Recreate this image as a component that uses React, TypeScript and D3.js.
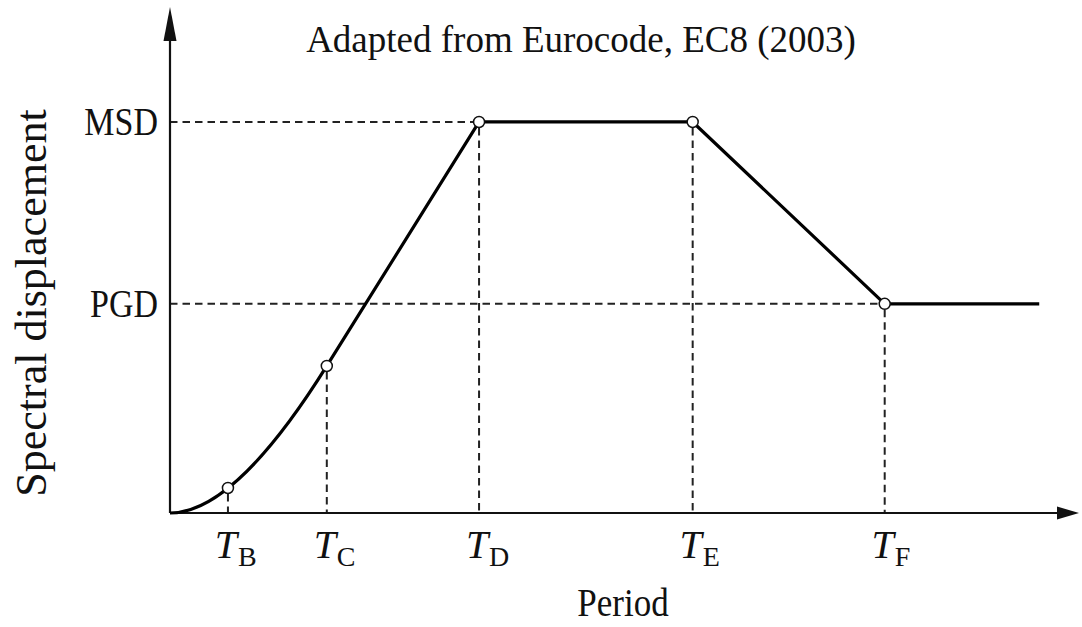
import React from 'react';
import * as d3 from 'd3';

// corner periods of the spectrum (schematic units) and the spectral displacement at each
const cornerNames = ['B', 'C', 'D', 'E', 'F'];
const cornerPeriods = [0.51, 1.38, 2.72, 4.6, 6.29];
const cornerDisp = [0.064, 0.376, 1.0, 1.0, 0.535];
const endPeriod = 7.65;

// reference levels on the y axis
const levelNames = ['MSD', 'PGD'];
const levelValues = [1.0, 0.535];

const width = 1082;
const height = 627;
const serif = '"Liberation Serif", "Times New Roman", serif';

const App: React.FC = () => {
  const x = d3.scaleLinear().domain([0, 8]).range([170, 1079]);
  const y = d3.scaleLinear().domain([0, 1.294]).range([513, 7]);

  const [x0, x1] = x.range();
  const [y0, y1] = y.range();

  // ascending branch: quadratic from origin, tangent to the straight TC-TD segment
  const iC = 1, iD = 2;
  const slope = (cornerDisp[iD] - cornerDisp[iC]) / (cornerPeriods[iD] - cornerPeriods[iC]);
  const ctrlT = cornerPeriods[iC] - cornerDisp[iC] / slope;

  const p = d3.path();
  p.moveTo(x(0), y(0));
  p.quadraticCurveTo(x(ctrlT), y(0), x(cornerPeriods[iC]), y(cornerDisp[iC]));
  for (let i = iD; i < cornerPeriods.length; i++) p.lineTo(x(cornerPeriods[i]), y(cornerDisp[i]));
  p.lineTo(x(endPeriod), y(cornerDisp[cornerDisp.length - 1]));

  // horizontal guides end at the first corner reaching that level
  const levelEnd = levelValues.map(v => {
    const i = cornerDisp.findIndex(d => Math.abs(d - v) < 1e-9);
    return cornerPeriods[i];
  });

  const dash = '7.5,5';

  return (
    <svg width={width} height={height} style={{ position: 'absolute', left: 0, top: 0, background: '#fff' }}
      fontFamily={serif}>
      {/* title */}
      <text x={581} y={52} fontSize={37} textAnchor="middle" fill="#111">Adapted from Eurocode, EC8 (2003)</text>

      {/* dashed guides */}
      <g stroke="#222" strokeWidth={2} strokeDasharray={dash} fill="none">
        {levelValues.map((v, i) => (
          <line key={'h' + i} x1={x0} x2={x(levelEnd[i])} y1={y(v)} y2={y(v)} />
        ))}
        {cornerPeriods.map((t, i) => (
          <line key={'v' + i} x1={x(t)} x2={x(t)} y1={y(cornerDisp[i]) + 6} y2={y0} />
        ))}
      </g>

      {/* axes */}
      <g stroke="#111" strokeWidth={2.2} fill="none">
        <line x1={x0} x2={x0} y1={y0} y2={y1 + 25} />
        <line x1={x0} x2={x1 - 15} y1={y0} y2={y0} />
      </g>
      <path d={`M${x0},${y1} L${x0 - 6.5},${y1 + 34} L${x0 + 6.5},${y1 + 34} Z`} fill="#111" />
      <path d={`M${x1},${y0} L${x1 - 22},${y0 - 6.5} L${x1 - 22},${y0 + 6.5} Z`} fill="#111" />

      {/* spectrum */}
      <path d={p.toString()} fill="none" stroke="#000" strokeWidth={3.2} strokeLinejoin="round" />
      {cornerPeriods.map((t, i) => (
        <circle key={'c' + i} cx={x(t)} cy={y(cornerDisp[i])} r={5.5} fill="#fff" stroke="#111" strokeWidth={1.5} />
      ))}

      {/* y level labels */}
      {levelNames.map((n, i) => (
        <text key={'l' + i} transform={`translate(158,${y(levelValues[i]) + 13}) scale(1,1.15)`}
          fontSize={34} textAnchor="end" fill="#111">{n}</text>
      ))}

      {/* period labels */}
      {cornerNames.map((n, i) => (
        <g key={'t' + i} transform={`translate(${x(cornerPeriods[i])},558)`} fill="#111">
          <text x={-2} fontSize={40} fontStyle="italic" textAnchor="middle">T</text>
          <text x={10} y={8} fontSize={28}>{n}</text>
        </g>
      ))}

      {/* axis titles */}
      <text x={623} y={616} fontSize={35} textAnchor="middle" transform="translate(0,-92.4) scale(1,1.15)" fill="#111">Period</text>
      <text transform="translate(46,303) rotate(-90)" fontSize={44} textAnchor="middle" fill="#111">Spectral displacement</text>
    </svg>
  );
};

export default App;
